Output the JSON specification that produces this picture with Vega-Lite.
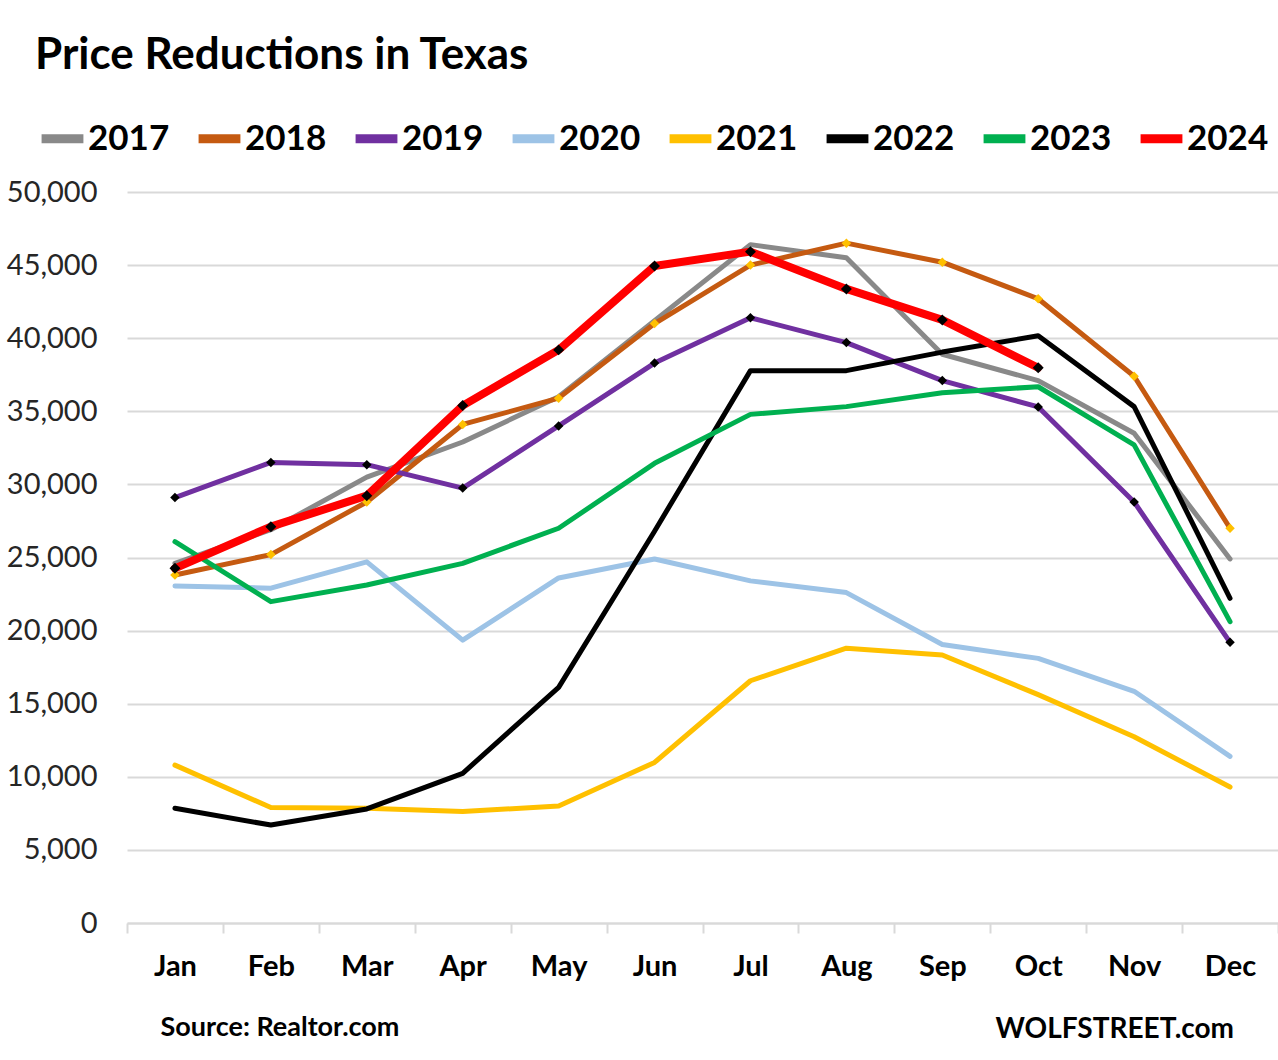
{
"$schema": "https://vega.github.io/schema/vega-lite/v6.json",
"width": 1151, "height": 731,
"autosize": "none",
"padding": {"left": 127, "top": 192, "right": 0, "bottom": 137},
"background": "white",
"title": {"text": "Price Reductions in Texas", "anchor": "start", "frame": "group", "orient": "top", "fontSize": 44, "font": "Lato", "fontWeight": "bold", "color": "black", "dx": -92, "offset": 0, "baseline": "alphabetic"},
"config": {"view": {"stroke": null}},
"datasets": {
"d": [
{"year":"2017","month":"Jan","value":24600},{"year":"2017","month":"Feb","value":26900},{"year":"2017","month":"Mar","value":30500},{"year":"2017","month":"Apr","value":32900},{"year":"2017","month":"May","value":36000},{"year":"2017","month":"Jun","value":41200},{"year":"2017","month":"Jul","value":46400},{"year":"2017","month":"Aug","value":45500},{"year":"2017","month":"Sep","value":38900},{"year":"2017","month":"Oct","value":37100},{"year":"2017","month":"Nov","value":33500},{"year":"2017","month":"Dec","value":24900},
{"year":"2018","month":"Jan","value":23800},{"year":"2018","month":"Feb","value":25200},{"year":"2018","month":"Mar","value":28800},{"year":"2018","month":"Apr","value":34100},{"year":"2018","month":"May","value":35900},{"year":"2018","month":"Jun","value":41000},{"year":"2018","month":"Jul","value":45000},{"year":"2018","month":"Aug","value":46500},{"year":"2018","month":"Sep","value":45200},{"year":"2018","month":"Oct","value":42700},{"year":"2018","month":"Nov","value":37400},{"year":"2018","month":"Dec","value":27000},
{"year":"2019","month":"Jan","value":29100},{"year":"2019","month":"Feb","value":31500},{"year":"2019","month":"Mar","value":31350},{"year":"2019","month":"Apr","value":29750},{"year":"2019","month":"May","value":34000},{"year":"2019","month":"Jun","value":38300},{"year":"2019","month":"Jul","value":41400},{"year":"2019","month":"Aug","value":39700},{"year":"2019","month":"Sep","value":37100},{"year":"2019","month":"Oct","value":35300},{"year":"2019","month":"Nov","value":28800},{"year":"2019","month":"Dec","value":19200},
{"year":"2020","month":"Jan","value":23050},{"year":"2020","month":"Feb","value":22900},{"year":"2020","month":"Mar","value":24700},{"year":"2020","month":"Apr","value":19350},{"year":"2020","month":"May","value":23600},{"year":"2020","month":"Jun","value":24900},{"year":"2020","month":"Jul","value":23400},{"year":"2020","month":"Aug","value":22600},{"year":"2020","month":"Sep","value":19050},{"year":"2020","month":"Oct","value":18100},{"year":"2020","month":"Nov","value":15850},{"year":"2020","month":"Dec","value":11400},
{"year":"2021","month":"Jan","value":10800},{"year":"2021","month":"Feb","value":7900},{"year":"2021","month":"Mar","value":7850},{"year":"2021","month":"Apr","value":7620},{"year":"2021","month":"May","value":8000},{"year":"2021","month":"Jun","value":10980},{"year":"2021","month":"Jul","value":16570},{"year":"2021","month":"Aug","value":18800},{"year":"2021","month":"Sep","value":18330},{"year":"2021","month":"Oct","value":15620},{"year":"2021","month":"Nov","value":12740},{"year":"2021","month":"Dec","value":9300},
{"year":"2022","month":"Jan","value":7850},{"year":"2022","month":"Feb","value":6700},{"year":"2022","month":"Mar","value":7800},{"year":"2022","month":"Apr","value":10240},{"year":"2022","month":"May","value":16120},{"year":"2022","month":"Jun","value":26800},{"year":"2022","month":"Jul","value":37780},{"year":"2022","month":"Aug","value":37780},{"year":"2022","month":"Sep","value":39050},{"year":"2022","month":"Oct","value":40170},{"year":"2022","month":"Nov","value":35320},{"year":"2022","month":"Dec","value":22210},
{"year":"2023","month":"Jan","value":26080},{"year":"2023","month":"Feb","value":21980},{"year":"2023","month":"Mar","value":23120},{"year":"2023","month":"Apr","value":24600},{"year":"2023","month":"May","value":27000},{"year":"2023","month":"Jun","value":31440},{"year":"2023","month":"Jul","value":34790},{"year":"2023","month":"Aug","value":35320},{"year":"2023","month":"Sep","value":36270},{"year":"2023","month":"Oct","value":36680},{"year":"2023","month":"Nov","value":32700},{"year":"2023","month":"Dec","value":20610},
{"year":"2024","month":"Jan","value":24260},{"year":"2024","month":"Feb","value":27110},{"year":"2024","month":"Mar","value":29230},{"year":"2024","month":"Apr","value":35390},{"year":"2024","month":"May","value":39200},{"year":"2024","month":"Jun","value":44940},{"year":"2024","month":"Jul","value":45920},{"year":"2024","month":"Aug","value":43370},{"year":"2024","month":"Sep","value":41250},{"year":"2024","month":"Oct","value":37980}
]
},
"data": {"name": "d"},
"encoding": {
"x": {"field": "month", "type": "nominal", "sort": ["Jan","Feb","Mar","Apr","May","Jun","Jul","Aug","Sep","Oct","Nov","Dec"],
 "scale": {"paddingInner": 0, "paddingOuter": 0},
 "axis": {"title": "Source: Realtor.com", "titleX": 33, "titleY": 112, "titleAlign": "left", "titleBaseline": "alphabetic", "titleFont": "Lato", "titleFontSize": 27, "titleFontWeight": "bold", "titleColor": "black",
  "labelAngle": 0, "labelFont": "Lato", "labelFontSize": 29, "labelFontWeight": "bold", "labelColor": "black", "labelPadding": 19,
  "tickBand": "extent", "tickSize": 10, "tickColor": "#D9D9D9", "tickWidth": 2, "domainColor": "#D9D9D9", "domainWidth": 2, "grid": false}},
"y": {"field": "value", "type": "quantitative", "scale": {"domain": [0, 50000], "nice": false},
 "axis": {"values": [0,5000,10000,15000,20000,25000,30000,35000,40000,45000,50000], "format": ",.0f", "title": "WOLFSTREET.com", "titleAngle": 0, "titleX": 868, "titleY": 845, "titleAlign": "left", "titleBaseline": "alphabetic", "titleFont": "Lato", "titleFontSize": 28, "titleFontWeight": "bold", "titleColor": "black",
  "labelFont": "Lato", "labelFontSize": 29, "labelColor": "#262626", "labelPadding": 30, "ticks": false, "domain": false, "grid": true, "gridColor": "#D9D9D9", "gridWidth": 2}}
},
"layer": [
{"mark": {"type": "line", "strokeJoin": "round", "strokeCap": "round"},
 "encoding": {
  "color": {"field": "year", "type": "nominal",
   "scale": {"domain": ["2017","2018","2019","2020","2021","2022","2023","2024"], "range": ["#898989","#C55A11","#7030A0","#9DC3E6","#FFC000","#000000","#00B050","#FF0000"]},
   "legend": {"orient": "none", "legendX": -90, "legendY": -79, "direction": "horizontal", "columns": 8, "title": null, "symbolType": "stroke", "symbolSize": 1750, "symbolStrokeWidth": 9, "labelFontSize": 35, "labelFont": "Lato", "labelFontWeight": "bold", "labelColor": "black", "columnPadding": 10, "labelOffset": 0}},
  "strokeWidth": {"condition": {"test": "datum.year === '2024'", "value": 8}, "value": 5}
 }},
{"transform": [{"filter": {"field": "year", "oneOf": ["2018","2019","2024"]}}],
 "mark": {"type": "point", "shape": "diamond", "filled": true, "opacity": 1},
 "encoding": {
  "color": {"condition": {"test": "datum.year === '2018'", "value": "#FFC000"}, "value": "black"},
  "size": {"condition": {"test": "datum.year === '2024'", "value": 120}, "value": 90}
 }}
]
}
